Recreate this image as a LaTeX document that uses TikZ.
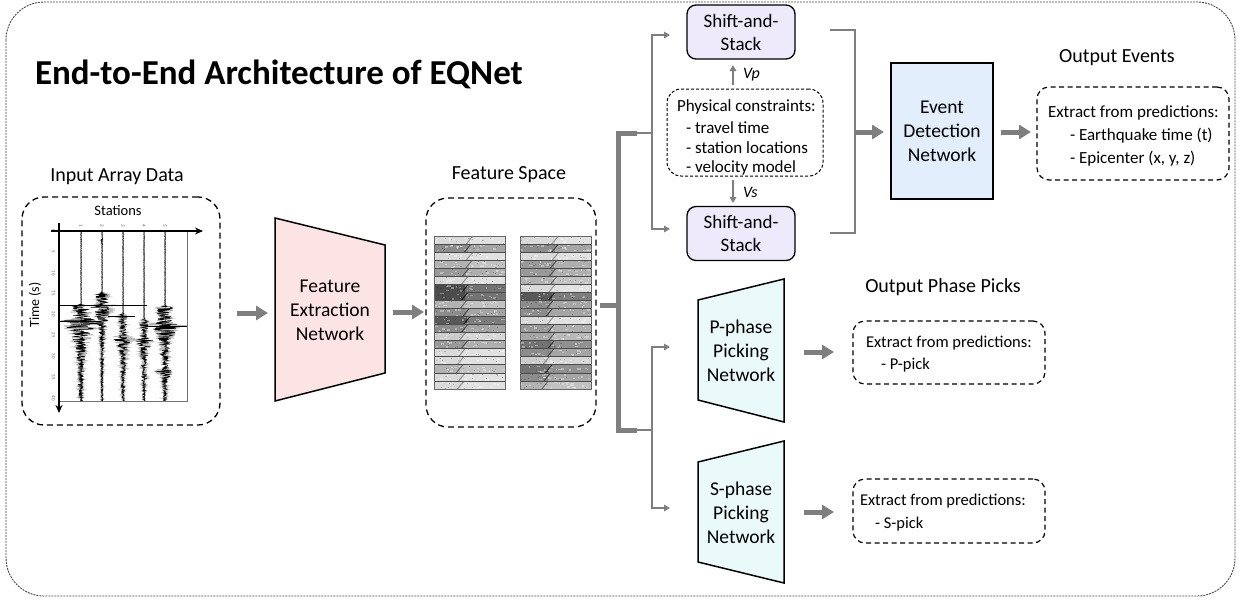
\documentclass[tikz,border=0pt]{standalone}
\usepackage{fontspec}
\setmainfont{Carlito}
\usetikzlibrary{arrows.meta}
\definecolor{agray}{RGB}{127,127,127}
\definecolor{pinkf}{RGB}{253,228,228}
\definecolor{lavf}{RGB}{238,234,251}
\definecolor{bluef}{RGB}{226,238,252}
\definecolor{cyanf}{RGB}{234,249,249}
\definecolor{framec}{RGB}{70,70,70}
\newcommand\setfs[2]{\fontsize{#1}{#2}\selectfont}
\newcommand\fpanel[2]{%
  \foreach \s [count=\i from 0] in {#2} {
    \pgfmathsetmacro\ya{236+\i*8.05}
    \pgfmathtruncatemacro\sd{min(\s+30,92)}
    \fill[black!\s] (#1,\ya) rectangle ++(71,8.05);
    \pgfmathsetmacro\cx{#1+71*(0.47-0.007*\i)+rnd*5}
    \fill[white,opacity=0.22] (\cx,\ya) rectangle (#1+71,\ya+8.05);
    \foreach \k in {1,...,16} {
      \pgfmathsetmacro\px{#1+rnd*68}
      \pgfmathsetmacro\py{\ya+0.3+rnd*6.5}
      \pgfmathsetmacro\pw{1+rnd*2.5}
      \pgfmathsetmacro\ph{0.8+rnd*1.1}
      \fill[white,opacity=0.35] (\px,\py) rectangle ++(\pw,\ph);
    }
    \foreach \k in {1,...,10} {
      \pgfmathsetmacro\qx{#1+rnd*69}
      \pgfmathsetmacro\qyy{\ya+0.5+rnd*6.5}
      \fill[black,opacity=0.2] (\qx,\qyy) rectangle ++(1.2,1);
    }
    \draw[black!\sd,line width=0.9pt] (\cx+3,\ya) -- (\cx-3.5,\ya+8.05);
    \draw[black!70,line width=0.7pt] (#1,\ya) -- ++(71,0);
  }
  \draw[black!60,line width=0.6pt] (#1,236) rectangle ++(71,153);
}
\begin{document}
\begin{tikzpicture}[x=1pt,y=-1pt,
  every node/.style={inner sep=0pt,outer sep=0pt},
  declare function={
    E(\qy,\qo,\qa,\qd)=\qa*min(max(\qy-\qo,0)/3,1)*exp(-min(max(\qy-\qo,0)/\qd,8));
    R(\qy,\qo,\qa)=\qa*min(max(\qy-\qo,0)/3,1)*exp(-min(max(\qy-\qo,0)/120,8));
  },
  fat/.style={draw=agray,line width=5pt,-{Triangle[length=12pt,width=14pt]}},
  thinarr/.style={draw=agray,line width=1.8pt,-{Triangle[length=6pt,width=6.5pt]}},
  trunk/.style={draw=agray,line width=5pt},
  branch/.style={draw=agray,line width=1.8pt},
  bigdash/.style={draw=black,line width=1.3pt,dash pattern=on 6pt off 4pt,rounded corners=22pt},
  outdash/.style={draw=black,line width=1.2pt,dash pattern=on 5pt off 3.5pt,rounded corners=12pt},
  phydash/.style={draw=black,line width=1pt,dash pattern=on 3pt off 2pt,rounded corners=14pt},
  lbl/.style={font=\setfs{20}{24}},
  net/.style={font=\setfs{19.5}{24},align=center},
  ln/.style={anchor=west,font=\setfs{17}{20},text height=12.5pt,text depth=2.5pt},
  lns/.style={anchor=west,font=\setfs{16.5}{20},text height=12.2pt,text depth=2.4pt},
  tick/.style={font=\setfs{5}{5},text=black!60,rotate=-90},
]
\useasboundingbox (0,0) rectangle (1239,600);
\pgfmathsetseed{17}

% outer frame
\draw[framec,line width=0.9pt,dash pattern=on 2pt off 1pt,rounded corners=38pt] (6,2) rectangle (1235,596);

% title
\node[anchor=base west,font=\setfs{35}{42}\bfseries] (title) at (35,84) {End-to-End Architecture of EQNet};

% ---------- input array data ----------
\node[lbl] (inlbl) at (117,177) {Input Array Data};
\node[bigdash,minimum width=198pt,minimum height=228pt] (inbox) at (121,311) {};
\draw[black!55,line width=0.4pt] (59,231) rectangle (187,401);
\foreach \xx in {81,102,123,144,165} \draw[black!60,line width=0.4pt] (\xx,231) -- (\xx,401);
% gray halos
\begin{scope}[gray!55,line width=0.9pt]
\draw plot[domain=231:401,samples=420,variable=\t] ({81+1.25*(0.3+E(\t,304,8,30)+E(\t,318,17,14)+R(\t,304,2.5))*rand},{\t});
\draw plot[domain=231:401,samples=420,variable=\t] ({102+1.25*(0.3+E(\t,238,2,3)+E(\t,292,6,20)+E(\t,303,13,10)+R(\t,292,1.6))*rand},{\t});
\draw plot[domain=231:401,samples=420,variable=\t] ({123+1.25*(0.3+E(\t,313,3,20)+E(\t,335,11,12)+R(\t,313,2))*rand},{\t});
\draw plot[domain=231:401,samples=420,variable=\t] ({144+1.25*(0.3+E(\t,318,3,20)+E(\t,338,10,10)+E(\t,374,4,4)+R(\t,318,1.6))*rand},{\t});
\draw plot[domain=231:401,samples=420,variable=\t] ({165+1.25*(0.3+E(\t,305,7,25)+E(\t,322,17,10)+E(\t,368,11,6)+R(\t,305,3))*rand},{\t});
\end{scope}
\begin{scope}[black,line width=0.45pt]
\draw plot[domain=231:401,samples=420,variable=\t] ({81+(0.3+E(\t,304,8,30)+E(\t,318,17,14)+R(\t,304,2.5))*rand},{\t});
\draw plot[domain=231:401,samples=420,variable=\t] ({102+(0.3+E(\t,238,2,3)+E(\t,292,6,20)+E(\t,303,13,10)+R(\t,292,1.6))*rand},{\t});
\draw plot[domain=231:401,samples=420,variable=\t] ({123+(0.3+E(\t,313,3,20)+E(\t,335,11,12)+R(\t,313,2))*rand},{\t});
\draw plot[domain=231:401,samples=420,variable=\t] ({144+(0.3+E(\t,318,3,20)+E(\t,338,10,10)+E(\t,374,4,4)+R(\t,318,1.6))*rand},{\t});
\draw plot[domain=231:401,samples=420,variable=\t] ({165+(0.3+E(\t,305,7,25)+E(\t,322,17,10)+E(\t,368,11,6)+R(\t,305,3))*rand},{\t});
\end{scope}
\draw[black,line width=0.5pt] (59,305) -- (147,305);
\draw[black,line width=0.5pt] (60,321) -- (99,321);
\draw[black,line width=0.5pt] (146,326) -- (187,326);
\draw[black,line width=0.5pt] (108,316) -- (135,316);
% ticks
\foreach \tv/\yy in {0/231,5/252,10/273,15/293,20/314,25/335,30/356,35/377,40/398}
  \node[tick] (tk\tv) at (53.5,\yy) {\tv};
\foreach \sv/\xx in {1/81,2/102,3/123,4/144,5/165}
  \node[tick] (st\sv) at (\xx,226) {\sv};
% axes
\draw[black,line width=1.5pt,-{Stealth[length=8pt,width=7pt]}] (51,231) -- (203,231);
\draw[black,line width=1.5pt,-{Stealth[length=8pt,width=7pt]}] (59,223) -- (59,413);
\node[font=\setfs{14.5}{16}] (stlbl) at (118,211) {Stations};
\node[font=\setfs{14}{16},rotate=90] (timelbl) at (35,305) {Time (s)};

% ---------- feature extraction ----------
\coordinate (a1s) at (237,313); \coordinate (a1e) at (268,313);
\draw[fat] (a1s) -- (a1e);
\draw[line width=1.5pt,fill=pinkf] (275,218) -- (385,245) -- (385,373) -- (275,401) -- cycle;
\node[net] (fen) at (330,310) {Feature\\Extraction\\Network};
\coordinate (a2s) at (393,312); \coordinate (a2e) at (424,312);
\draw[fat] (a2s) -- (a2e);

% ---------- feature space ----------
\node[lbl] (fslbl) at (509,175) {Feature Space};
\node[bigdash,minimum width=170pt,minimum height=229pt] (fbox) at (511,312.5) {};
\fpanel{434}{15,45,15,30,40,15,70,70,30,45,65,45,20,40,15,15,30,15,15}
\fpanel{520}{15,45,15,40,40,30,15,65,45,45,15,40,35,55,45,20,55,45,30}

% ---------- trunk ----------
\coordinate (t0) at (600,305); \coordinate (t1) at (620.5,305);
\coordinate (tt) at (618,133); \coordinate (tb) at (618,430);
\coordinate (tt2) at (637,133); \coordinate (tb2) at (637,430);
\coordinate (bj1) at (652,133); \coordinate (bj2) at (652,430);
\coordinate (ss1in) at (670,35); \coordinate (ss2in) at (670,229);
\coordinate (ppin) at (670,347); \coordinate (spin) at (670,508);
\draw[trunk] (t0) -- (t1);
\draw[trunk] (tt2) -- (tt) -- (tb) -- (tb2);
\draw[branch] (tt2) -- (bj1);
\draw[branch] (tb2) -- (bj2);
\draw[thinarr] (bj1) |- (ss1in);
\draw[thinarr] (bj1) |- (ss2in);
\draw[thinarr] (bj2) |- (ppin);
\draw[thinarr] (bj2) |- (spin);

% ---------- shift-and-stack ----------
\node[draw,line width=1.3pt,fill=lavf,rounded corners=9pt,minimum width=108pt,minimum height=54pt,font=\setfs{19}{23},align=center] (ss1) at (741,32) {Shift-and-\\Stack};
\node[draw,line width=1.3pt,fill=lavf,rounded corners=9pt,minimum width=108pt,minimum height=54pt,font=\setfs{19}{23},align=center] (ss2) at (741,233.5) {Shift-and-\\Stack};
\node[phydash,minimum width=156pt,minimum height=87pt] (phy) at (745,132.5) {};
\node[ln] (ph1) at (677,106) {Physical constraints:};
\node[ln] (ph2) at (686,128) {- travel time};
\node[ln] (ph3) at (686,148) {- station locations};
\node[ln] (ph4) at (686,167) {- velocity model};
\coordinate (vps) at (733,85); \coordinate (vpe) at (733,65);
\coordinate (vss) at (733,180); \coordinate (vse) at (733,203);
\draw[thinarr,line width=1.5pt] (vps) -- (vpe);
\draw[thinarr,line width=1.5pt] (vss) -- (vse);
\node[anchor=west,font=\setfs{16}{18}\itshape] (vp) at (743,75) {Vp};
\node[anchor=west,font=\setfs{16}{18}\itshape] (vs) at (743,192) {Vs};

% bracket
\coordinate (br1) at (830,30); \coordinate (br2) at (855,30);
\coordinate (br3) at (855,233); \coordinate (br4) at (830,233);
\draw[agray,line width=2.8pt] (br1) -- (br2) -- (br3) -- (br4);
\coordinate (brm) at (855,132); \coordinate (edin) at (884,132);
\draw[fat] (brm) -- (edin);

% ---------- event detection ----------
\node[draw,line width=1.5pt,fill=bluef,minimum width=102pt,minimum height=136pt,net] (edn) at (942,131) {Event\\Detection\\Network};
\coordinate (a3s) at (1001,132); \coordinate (a3e) at (1031,132);
\draw[fat] (a3s) -- (a3e);
\node[lbl] (oelbl) at (1117,58) {Output Events};
\node[outdash,minimum width=192pt,minimum height=93pt] (oebox) at (1133,133.5) {};
\node[ln] (oe1) at (1048,112) {Extract from predictions:};
\node[ln] (oe2) at (1070,135) {- Earthquake time (t)};
\node[ln] (oe3) at (1070,158) {- Epicenter (x, y, z)};

% ---------- phase picking ----------
\draw[line width=1.5pt,fill=cyanf] (698,300) -- (784,279) -- (784,422) -- (698,400) -- cycle;
\node[net] (ppn) at (741,351) {P-phase\\Picking\\Network};
\draw[line width=1.5pt,fill=cyanf] (698,462) -- (784,441) -- (784,583) -- (698,562) -- cycle;
\node[net] (spn) at (741,513) {S-phase\\Picking\\Network};
\node[lbl] (oplbl) at (943,287) {Output Phase Picks};
\coordinate (a4s) at (804,352); \coordinate (a4e) at (834,352);
\coordinate (a5s) at (804,512); \coordinate (a5e) at (834,512);
\draw[fat] (a4s) -- (a4e);
\draw[fat] (a5s) -- (a5e);
\node[outdash,minimum width=192pt,minimum height=63pt] (pbox) at (949,352.5) {};
\node[lns] (pb1) at (866,343) {Extract from predictions:};
\node[lns] (pb2) at (881,365) {- P-pick};
\node[outdash,minimum width=192pt,minimum height=64pt] (sbox) at (949,511) {};
\node[lns] (sb1) at (860,501) {Extract from predictions:};
\node[lns] (sb2) at (875,524) {- S-pick};
\end{tikzpicture}
\end{document}
